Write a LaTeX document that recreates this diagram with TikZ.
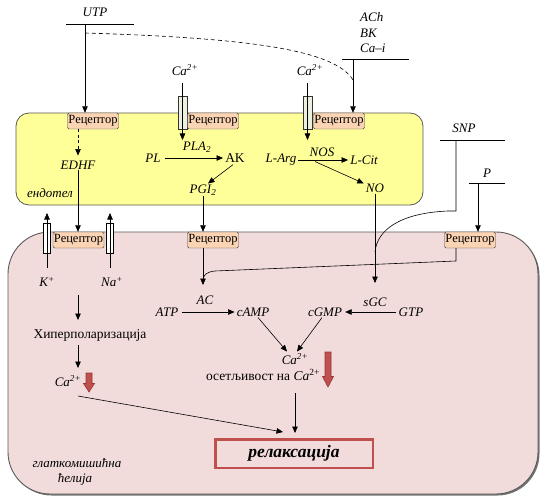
\documentclass[tikz,border=0pt]{standalone}
\usepackage{fontspec}
\setmainfont{Liberation Serif}
\usetikzlibrary{arrows.meta,calc}
\definecolor{endo}{HTML}{FFFF99}
\definecolor{smc}{HTML}{F2DCDB}
\definecolor{recf}{HTML}{FBD4B4}
\definecolor{chan}{HTML}{EBF1DE}
\definecolor{relred}{HTML}{C0504D}
\definecolor{darkred}{HTML}{943634}
\begin{document}
\begin{tikzpicture}[x=1pt,y=-1pt,
  every node/.style={font=\fontsize{13.5}{15}\selectfont, inner sep=1pt},
  rec/.style={draw=black!75, fill=recf, rounded corners=1.5pt, minimum width=51pt, minimum height=16pt, inner sep=0pt, font=\fontsize{12.5}{13}\selectfont},
  lab/.style={font=\fontsize{13}{15}\selectfont\itshape},
  arr/.style={-{Triangle[length=6.5pt,width=5.5pt]}, line width=0.6pt},
  ln/.style={line width=0.6pt},
  chanw/.style={draw=black, fill=white, line width=0.7pt, minimum width=7.5pt, minimum height=30pt, inner sep=0pt},
  chang/.style={draw=black!80, fill=chan, line width=0.7pt, minimum width=9pt, minimum height=33pt, inner sep=0pt},
  blockarr/.style={fill=relred, draw=darkred, line width=0.6pt}
]
\useasboundingbox (0,0) rectangle (547,503);

% cells
\fill[black!55, rounded corners=42pt] (9.5,233.5) rectangle (539.5,495.5);
\draw[fill=smc, draw=black!65, line width=0.9pt, rounded corners=42pt] (8,232) rectangle (538,494);
\draw[fill=endo, draw=black!65, line width=0.8pt, rounded corners=13pt] (16,113) rectangle (423,205);

% channels
\node[chang] (c1) at (182.5,112.5) {};
\node[chang] (c2) at (307.5,112.5) {};
\node[chanw] (ck) at (47,238) {};
\node[chanw] (cn) at (110,238) {};

% receptors
\node[rec] (r1) at (93,121) {Рецептор};
\node[rec] (r2) at (213,121) {Рецептор};
\node[rec] (r3) at (339,121) {Рецептор};
\node[rec] (r4) at (78.5,240) {Рецептор};
\node[rec] (r5) at (213,240) {Рецептор};
\node[rec] (r6) at (470,240) {Рецептор};

% top agonists
\node[lab] (utp) at (95,12) {UTP};
\coordinate (utpL) at (66,24); \coordinate (utpR) at (134,24);
\draw[ln] (utpL) -- (utpR);
\coordinate (utpA) at (85,24);
\draw[arr] (utpA) -- (utpA |- r1.north);
\coordinate (dashS) at (85,33); \coordinate (dashE) at (353,80);
\draw[ln, dash pattern=on 4pt off 3pt] (dashS) .. controls (250,38) and (335,50) .. (dashE);

\node[lab, anchor=west] (ach) at (359,17) {ACh};
\node[lab, anchor=west] (bk) at (359,33) {BK};
\node[lab, anchor=west] (cai) at (359,48) {Ca–i};
\coordinate (achL) at (342,59); \coordinate (achR) at (409,59);
\draw[ln] (achL) -- (achR);
\coordinate (achA) at (353,59);
\draw[arr] (achA) -- (achA |- r3.north);

\node[lab] (ca1) at (185,70) {Ca\textsuperscript{2+}};
\coordinate (ca1s) at (182.5,83); \coordinate (ca1e) at (182.5,140);
\draw[arr] (ca1s) -- (ca1e);
\node[lab] (ca2) at (310,70) {Ca\textsuperscript{2+}};
\coordinate (ca2s) at (307.5,83); \coordinate (ca2e) at (307.5,140);
\draw[arr] (ca2s) -- (ca2e);

% endothelium contents
\node[lab] (edhf) at (78,165) {EDHF};
\draw[arr, dash pattern=on 3pt off 2.5pt] (edhf.north |- r1.south) -- ($(edhf.north)+(0,-4)$);
\draw[arr] (edhf.south) -- (edhf.south |- r4.north);
\node[lab] (endot) at (50,193) {ендотел};

\node[lab] (pla) at (197,147) {PLA\textsubscript{2}};
\node[lab] (pl) at (153,158) {PL};
\node (ak) at (235,158) {AK};
\draw[arr, shorten <=3pt, shorten >=1pt] (pl.east) -- (ak.west);
\node[lab] (pgi) at (203,190) {PGI\textsubscript{2}};
\draw[arr] ($(ak.south)+(-2,1)$) -- ($(pgi.north)+(5,0)$);
\draw[arr] (pgi.south) -- (pgi.south |- r5.north);

\node[lab] (nos) at (322,152) {NOS};
\node[lab] (larg) at (281,160) {L-Arg};
\node[lab] (lcit) at (364,160) {L-Cit};
\node[lab] (no) at (375,188) {NO};
\draw[arr, shorten <=1pt, shorten >=1pt] (larg.east) -- (lcit.west);
\coordinate (split) at (315,161.5);
\draw[arr] (split) -- ($(no.north west)+(-1,1)$);
\coordinate (sgcin) at (375,283);
\draw[arr] (no.south) -- (sgcin);

% SNP and P
\node[lab] (snp) at (464,128) {SNP};
\coordinate (snpL) at (440,140); \coordinate (snpR) at (505,140);
\draw[ln] (snpL) -- (snpR);
\coordinate (snpA) at (456,140); \coordinate (snpB) at (456,211); \coordinate (snpE) at (375,252);
\draw[ln] (snpA) -- (snpB) -- (448,211) .. controls (400,213) and (377,230) .. (snpE);

\node[lab] (p) at (487,173) {P};
\coordinate (pL) at (469,183); \coordinate (pR) at (505,183);
\draw[ln] (pL) -- (pR);
\coordinate (pA) at (478,183);
\draw[arr] (pA) -- (pA |- r6.north);

% smooth muscle contents
\coordinate (acin) at (203,285);
\draw[arr] (r5.south -| acin) -- (acin);
\coordinate (r6s) at (456,248); \coordinate (r6j) at (203,281);
\draw[ln] (r6s) -- (456,261) -- (215,271) .. controls (206,272) and (203,275) .. (r6j);

\node[lab] (k) at (47,282) {K\textsuperscript{+}};
\node[lab] (na) at (112,282) {Na\textsuperscript{+}};
\coordinate (kout) at (47,213); \coordinate (naout) at (110,213);
\coordinate (kin) at (47,268); \coordinate (nain) at (110,268);
\draw[arr] (kin) -- (kout);
\draw[arr] (nain) -- (naout);

\node (hyp) at (90,335) {Хиперполаризација};
\coordinate (h1) at (78,295); \coordinate (h2) at (78,320);
\draw[arr] (h1) -- (h2);
\coordinate (h3) at (78,345); \coordinate (h4) at (78,368);
\draw[arr] (h3) -- (h4);
\node[lab] (ca4) at (68,381) {Ca\textsuperscript{2+}};
\path[blockarr] (86,373) -- (92,373) -- (92,383.5) -- (94.5,383.5) -- (89,392) -- (83.5,383.5) -- (86,383.5) -- cycle;

\node[lab] (ac) at (205,300) {AC};
\node[lab] (atp) at (167,312) {ATP};
\node[lab] (camp) at (253,312) {cAMP};
\draw[arr, shorten <=2pt, shorten >=1pt] (atp.east) -- (camp.west);

\node[lab] (sgc) at (375,302) {sGC};
\node[lab] (gtp) at (411,312) {GTP};
\node[lab] (cgmp) at (325,312) {cGMP};
\draw[arr, shorten <=2pt, shorten >=2pt] (gtp.west) -- (cgmp.east);

\node[lab] (ca3) at (295,359) {Ca\textsuperscript{2+}};
\node (sens) at (263,375) {осетљивост на \textit{Ca}\textsuperscript{2+}};
\draw[arr] ($(camp.south)+(5,0)$) -- ($(ca3.north)+(-8,-1)$);
\draw[arr] ($(cgmp.south)+(-3,0)$) -- ($(ca3.north)+(2,-1)$);
\path[blockarr] (325,352) -- (331,352) -- (331,376.5) -- (333.5,376.5) -- (328,387) -- (322.5,376.5) -- (325,376.5) -- cycle;

\node[draw=relred, line width=2.5pt, fill=smc, minimum width=157.5pt, minimum height=28.5pt, inner sep=0pt, font=\fontsize{17.5}{20}\selectfont\bfseries\itshape] (rel) at (294,453.5) {релаксација};
\coordinate (sensA) at (295,393);
\draw[arr, shorten >=5pt] (sensA) -- (sensA |- rel.north);
\coordinate (ca4s) at (78,396);
\draw[arr] (ca4s) -- (283,432);

\node[lab] (glat) at (77,463) {глаткомишићна};
\node[lab] (cel) at (75,479) {ћелија};
\end{tikzpicture}
\end{document}
